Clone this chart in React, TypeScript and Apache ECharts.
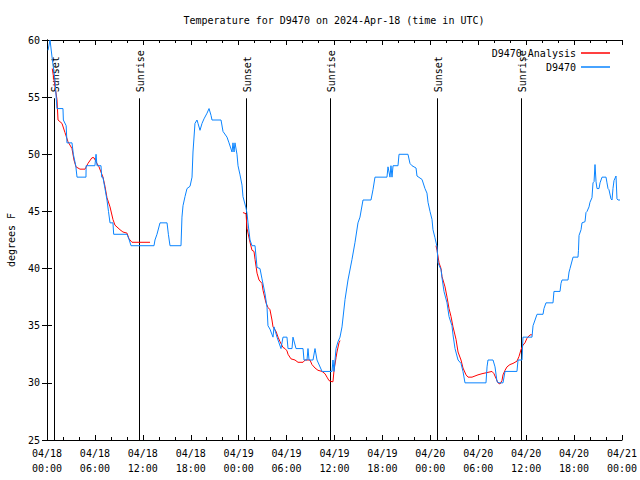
import { useEffect, useRef } from "react";
import * as echarts from "echarts";

const TITLE = "Temperature for D9470 on 2024-Apr-18 (time in UTC)";
const Y_NAME = "degrees F";
const MONTH = "04";
const START_DAY = 18;
const X_MIN = 0;
const X_MAX = 72;
const X_STEP = 6;
const Y_MIN = 25;
const Y_MAX = 60;
const Y_STEP = 5;

const SERIES_ANALYSIS = "D9470_Analysis";
const SERIES_OBS = "D9470";

// sunset / sunrise markers (hours since 04/18 00:00 UTC)
const eventHours = [0.92, 11.56, 24.96, 35.48, 48.88, 59.4];
const eventNames = ["Sunset", "Sunrise", "Sunset", "Sunrise", "Sunset", "Sunrise"];
const EVENT_LINE_TOP = 54.9;

// observed temperature (blue)
const obsHours = [
  0.13, 0.38, 0.63, 1.0, 1.25, 2.0, 2.05, 2.4, 2.5, 3.13, 3.3, 3.6, 3.76, 4.88, 4.9, 6.0, 6.14, 6.26, 6.76, 6.85,
  7.0, 7.26, 7.51, 7.7, 7.89, 8.26, 8.35, 10.02, 10.3, 10.52, 13.4, 13.52, 13.77, 14.15, 15.03, 15.2, 15.4, 16.78,
  16.9, 17.03, 17.28, 17.53, 17.91, 18.16, 18.28, 18.53, 18.78, 18.91, 19.16, 19.41, 19.66, 20.04, 20.29, 20.54,
  20.66, 21.79, 22.04, 22.54, 22.79, 23.17, 23.29, 23.42, 23.54, 23.79, 23.92, 24.17, 24.42, 24.54, 24.92, 25.05,
  25.17, 25.42, 25.67, 26.05, 26.3, 26.67, 26.92, 27.3, 27.55, 27.67, 27.92, 28.3, 28.43, 28.8, 29.05, 29.3, 29.55,
  30.05, 30.18, 30.68, 30.8, 31.18, 32.06, 32.18, 32.56, 32.68, 32.81, 33.31, 33.56, 33.81, 34.44, 35.69, 35.81,
  35.94, 36.19, 36.44, 36.69, 36.94, 37.32, 37.69, 38.19, 38.57, 38.94, 39.19, 39.57, 40.57, 40.82, 41.07, 42.57,
  42.7, 42.95, 43.07, 43.2, 43.33, 43.95, 44.08, 45.2, 45.45, 45.7, 46.21, 46.33, 46.96, 47.33, 47.58, 47.71, 47.96,
  48.21, 48.33, 48.58, 48.84, 48.96, 49.34, 49.46, 49.71, 50.09, 50.34, 50.71, 50.84, 51.09, 51.47, 51.84, 52.09,
  52.34, 54.97, 55.1, 55.22, 55.85, 56.1, 56.35, 56.6, 57.1, 57.35, 58.85, 58.98, 59.48, 59.6, 60.73, 60.86, 61.11,
  61.36, 62.11, 62.23, 62.48, 63.36, 63.48, 64.24, 64.36, 64.49, 65.24, 65.37, 65.49, 65.87, 66.49, 66.55, 66.62,
  66.87, 66.99, 67.37, 67.49, 67.62, 67.87, 67.99, 68.24, 68.37, 68.5, 68.62, 68.75, 68.87, 69.12, 69.25, 69.5,
  70.0, 70.12, 70.25, 70.37, 70.62, 70.75, 70.87, 71.0, 71.25, 71.37, 71.5, 71.75,
];
const obsTemps = [
  59.1, 60, 58.5, 56.5, 54, 54, 53, 52.5, 51, 51, 50, 49, 48, 48, 49, 49, 50, 49, 49, 48,
  48, 47, 46, 45, 44, 44, 43, 43, 42.5, 42, 42, 42.5, 43, 44, 44, 43, 42, 42,
  44.5, 45.5, 46.3, 47, 47.2, 48, 50.2, 52.7, 53, 52.7, 52.1, 52.7, 53.1, 53.6, 54, 53.4,
  53, 53, 52, 51.5, 51, 50.2, 51, 50.2, 51, 50, 49, 48.2, 47.3, 46.3, 45.3, 44.8,
  44, 42.5, 42, 42, 40.1, 40, 39.1, 37.8, 36.6, 35, 34.7, 34, 34.9, 34, 33.5, 33, 34,
  34, 33, 33, 34, 33, 33, 32, 32, 33, 32, 32, 33, 32, 31, 31, 32,
  31, 33, 33.6, 34, 34.9, 37.3, 39, 40.8, 42.3, 44, 44.5, 46, 46, 46.9, 48, 48,
  48.9, 48, 49, 48, 49, 49, 50, 50, 49.2, 49, 48.8, 48.1, 47.8, 47, 46.6, 45.8, 45,
  44.3, 43.4, 42.7, 41.9, 40.5, 39.9, 39.2, 38, 37, 35.8, 35, 34.2, 33, 32, 31.7, 31,
  30, 30, 31.4, 32, 32, 31.4, 30.1, 30, 30, 31, 31, 32, 32, 34, 34, 35, 35.5,
  36, 36, 36.5, 37, 37, 38, 38, 38.7, 39, 39, 39.7, 40, 41, 41, 41.6, 42.9,
  43.4, 44, 44.1, 44.9, 45, 45.4, 45.8, 46.2, 47.5, 47.6, 49.1, 47.6, 47, 47, 47.5, 48,
  48, 47.5, 47, 46.9, 46.1, 46, 47, 47.7, 48.1, 46.1, 46, 46,
];

// analysis (red), null breaks the line between nights
const anaHours = [
  0.66, 1.25, 1.38, 1.88, 2.25, 2.63, 3.13, 3.38, 3.63, 4.13, 4.76, 5.13, 5.63, 5.88, 6.26, 6.51, 7.01, 7.26, 7.51,
  7.89, 8.26, 8.51, 9.14, 9.51, 10.02, 10.27, 10.64, 12.9,
  18.0,
  24.54, 24.92, 25.05, 25.42, 25.67, 25.92, 26.05, 26.3, 26.55, 26.92, 27.05, 27.42, 27.67, 27.92, 28.17, 28.3,
  28.68, 28.93, 29.18, 29.55, 29.8, 30.05, 30.18, 30.55, 31.05, 31.43, 31.68, 32.06, 32.31, 32.93, 33.18, 33.56,
  33.93, 34.44, 34.81, 35.06, 35.31, 35.69, 35.81, 35.94, 36.19, 36.31, 36.56, 36.69,
  42.0,
  48.71, 48.84, 49.09, 49.34, 49.46, 49.84, 50.09, 50.34, 50.59, 50.84, 51.22, 51.47, 51.84, 52.09, 52.47, 52.72,
  53.22, 53.59, 53.97, 54.47, 55.1, 55.72, 55.97, 56.22, 56.47, 56.72, 56.97, 57.1, 57.35, 57.6, 57.97, 58.35,
  58.85, 59.1, 59.35, 59.6, 59.85, 60.1, 60.48, 60.73,
];
const anaTemps = [
  57.5, 54.8, 53, 52.7, 51.9, 51.1, 50.5, 49.5, 48.9, 48.7, 48.7, 49.2, 49.7, 49.7, 49.2, 48.9, 48, 47.2, 46.2,
  45.4, 44.3, 43.8, 43.4, 43.2, 43.1, 42.6, 42.3, 42.3,
  null,
  44.9, 44.8, 43.5, 42.3, 41.6, 41.5, 40.8, 39.6, 39, 38.7, 38.1, 37, 36.6, 36.4, 35.5, 34.9,
  34.5, 34, 33.6, 33.1, 33, 32.8, 32.5, 32.1, 32, 31.8, 31.8, 31.8, 32, 32, 31.6, 31.3,
  31.1, 31, 30.8, 30.5, 30.2, 30.1, 30.1, 31.1, 32.2, 32.7, 33.5, 33.7,
  null,
  42, 41.6, 40.5, 40, 39.3, 38.4, 37.5, 36.5, 35.8, 34.9, 33.8, 32.7, 32, 31.3, 30.7, 30.5,
  30.5, 30.6, 30.7, 30.8, 30.9, 31, 30.8, 30.4, 30, 29.9, 30.2, 30.7, 31.1, 31.4, 31.6, 31.7,
  31.9, 32.3, 32.9, 33.3, 33.5, 33.9, 34.2, 34.2,
];

const FONT = "'DejaVu Sans Mono', 'Liberation Mono', monospace";
const BLUE = "#0a84ff";
const RED = "#ff0000";

function xLabel(h: number): string {
  const day = START_DAY + Math.floor(h / 24);
  const hh = Math.round(h % 24);
  return `${MONTH}/${String(day).padStart(2, "0")}\n${String(hh).padStart(2, "0")}:00`;
}

export default function App() {
  const ref = useRef<HTMLDivElement>(null);
  useEffect(() => {
    if (!ref.current) return;
    const chart = echarts.init(ref.current, undefined, { renderer: "svg" });
    const axisLine = { show: true, lineStyle: { color: "#000", width: 1 } };
    const baseX = {
      type: "value" as const,
      min: X_MIN,
      max: X_MAX,
      interval: X_STEP,
      axisLine,
      axisTick: { show: true, inside: true, length: 5, lineStyle: { color: "#000" } },
      minorTick: { show: true, splitNumber: 3, length: 3, lineStyle: { color: "#000" } },
      splitLine: { show: false },
    };
    const baseY = {
      type: "value" as const,
      min: Y_MIN,
      max: Y_MAX,
      interval: Y_STEP,
      axisLine,
      axisTick: { show: true, inside: true, length: 5, lineStyle: { color: "#000" } },
      splitLine: { show: false },
    };
    chart.setOption({
      animation: false,
      backgroundColor: "#fff",
      title: {
        text: TITLE,
        left: 329,
        top: 10,
        textAlign: "center",
        textStyle: { fontFamily: FONT, fontSize: 10, fontWeight: "normal", color: "#000" },
      },
      legend: {
        orient: "vertical",
        right: 25,
        top: 42,
        align: "right",
        icon: "rect",
        itemWidth: 29,
        itemHeight: 1.5,
        itemGap: 2,
        textStyle: { fontFamily: FONT, fontSize: 10, color: "#000", lineHeight: 12 },
        data: [SERIES_ANALYSIS, SERIES_OBS],
      },
      grid: { left: 47, right: 18, top: 40, bottom: 40, containLabel: false, outerBoundsMode: "none" },
      xAxis: [
        {
          ...baseX,
          position: "bottom",
          axisLabel: {
            show: true,
            formatter: (v: number) => xLabel(v),
            fontFamily: FONT,
            fontSize: 10,
            color: "#000",
            lineHeight: 15,
            margin: 6,
            showMinLabel: true,
            showMaxLabel: true,
          },
        },
        { ...baseX, position: "top", axisLabel: { show: false } },
      ],
      yAxis: [
        {
          ...baseY,
          position: "left",
          name: Y_NAME,
          nameLocation: "middle",
          nameGap: 31,
          nameRotate: 90,
          nameTextStyle: { fontFamily: FONT, fontSize: 10, color: "#000" },
          axisLabel: { fontFamily: FONT, fontSize: 10, color: "#000", margin: 7 },
        },
        { ...baseY, position: "right", axisLabel: { show: false } },
      ],
      series: [
        {
          type: "custom",
          name: "events",
          xAxisIndex: 0,
          yAxisIndex: 0,
          silent: true,
          z: 1,
          data: eventHours.map((h) => [h, Y_MIN]),
          renderItem: (params: any, api: any) => {
            const h = api.value(0);
            const p0 = api.coord([h, Y_MIN]);
            const p1 = api.coord([h, EVENT_LINE_TOP]);
            const x = Math.round(p0[0]) + 0.5;
            return {
              type: "group",
              children: [
                {
                  type: "line",
                  shape: { x1: x, y1: p0[1], x2: x, y2: p1[1] },
                  style: { stroke: "#000", lineWidth: 1 },
                },
                {
                  type: "text",
                  x: x + 1,
                  y: p1[1] - 6,
                  rotation: Math.PI / 2,
                  style: {
                    text: eventNames[params.dataIndex],
                    fill: "#000",
                    font: `10px ${FONT}`,
                    textAlign: "left",
                    textVerticalAlign: "middle",
                  },
                },
              ],
            };
          },
        },
        {
          type: "line",
          name: SERIES_ANALYSIS,
          xAxisIndex: 0,
          yAxisIndex: 0,
          data: anaHours.map((h, i) => [h, anaTemps[i]]),
          showSymbol: false,
          symbol: "none",
          connectNulls: false,
          lineStyle: { color: RED, width: 1 },
          itemStyle: { color: RED },
          z: 2,
        },
        {
          type: "line",
          name: SERIES_OBS,
          xAxisIndex: 0,
          yAxisIndex: 0,
          data: obsHours.map((h, i) => [h, obsTemps[i]]),
          showSymbol: false,
          symbol: "none",
          lineStyle: { color: BLUE, width: 1 },
          itemStyle: { color: BLUE },
          z: 3,
        },
      ],
    });
    return () => chart.dispose();
  }, []);
  return <div ref={ref} style={{ width: 640, height: 480, position: "absolute", left: 0, top: 0 }} />;
}
